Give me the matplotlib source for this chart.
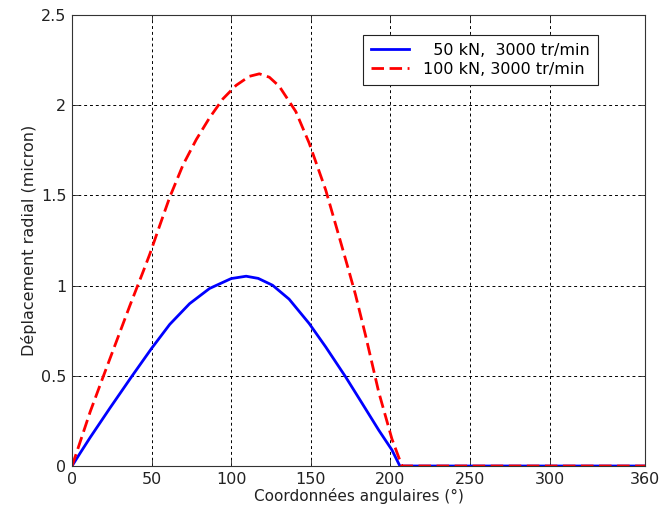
import matplotlib
matplotlib.use("Agg")
import matplotlib.pyplot as plt

# ==========================================================
# Data
# ==========================================================

angles_50 = [0, 5, 11.4, 23.9, 37.5, 50, 61.4, 73.9, 86.4, 100, 109.4,
             117, 126, 136.4, 149, 159.4, 171.9, 182.3, 192.7, 201, 206, 360]
disp_50 = [0, 0.07, 0.158, 0.322, 0.496, 0.652, 0.785, 0.90, 0.984, 1.039,
           1.052, 1.04, 1.002, 0.925, 0.79, 0.66, 0.494, 0.347, 0.199,
           0.089, 0, 0]

angles_100 = [0, 3.1, 11.4, 19.8, 28.1, 36.4, 44.8, 48.9, 55.2, 61.4,
              69.8, 78.1, 86.4, 94.8, 103.1, 111.4, 117.7, 124, 130.2,
              140.6, 149, 159.4, 167.7, 174, 178.1, 184.4, 192.7, 201,
              207.3, 360]
disp_100 = [0, 0.08, 0.30, 0.50, 0.695, 0.89, 1.08, 1.175, 1.335, 1.49,
            1.67, 1.81, 1.93, 2.035, 2.11, 2.16, 2.174, 2.155, 2.105,
            1.965, 1.79, 1.53, 1.275, 1.08, 0.95, 0.725, 0.41, 0.15,
            0, 0]

labels = ["  50 kN,  3000 tr/min", "100 kN, 3000 tr/min"]

x_ticks = [0, 50, 100, 150, 200, 250, 300, 360]
y_ticks = [0, 0.5, 1, 1.5, 2, 2.5]
y_tick_labels = ["0", "0.5", "1", "1.5", "2", "2.5"]

# ==========================================================
# Plot
# ==========================================================

plt.rcParams["font.family"] = "DejaVu Sans"
plt.rcParams["font.size"] = 11.5

fig = plt.figure(figsize=(6.62, 5.21), dpi=100)
ax = fig.add_axes([72 / 662, 55 / 521, 573 / 662, 451 / 521])

ax.plot(angles_50, disp_50, color="#0000ff", linewidth=2, label=labels[0])
ax.plot(angles_100, disp_100, color="#ff0000", linewidth=2,
        dashes=(4.5, 2), label=labels[1])

ax.set_xlim(0, 360)
ax.set_ylim(0, 2.5)
ax.set_xticks(x_ticks)
ax.set_yticks(y_ticks)
ax.set_yticklabels(y_tick_labels)

ax.grid(True, color="black", linewidth=0.7, linestyle=(0, (3, 3)))
ax.tick_params(direction="in", top=True, right=True, length=4, width=0.6,
               colors="#222222", labelcolor="#222222", pad=4)
for spine in ax.spines.values():
    spine.set_linewidth(0.8)
    spine.set_color("#333333")

ax.set_xlabel("Coordonnées angulaires (°)", labelpad=1, color="#222222",
              fontsize=11)
ax.set_ylabel("Déplacement radial (micron)", labelpad=3, color="#222222",
              fontsize=11.5)

leg = ax.legend(loc="upper right", bbox_to_anchor=(526 / 573, 431 / 451),
                fancybox=False, framealpha=1, edgecolor="#222222",
                handlelength=2.4, handletextpad=0.9, borderpad=0.5,
                labelspacing=0.25, borderaxespad=0)
leg.get_frame().set_linewidth(0.8)

fig.savefig("out.png", dpi=100)
plt.close(fig)
